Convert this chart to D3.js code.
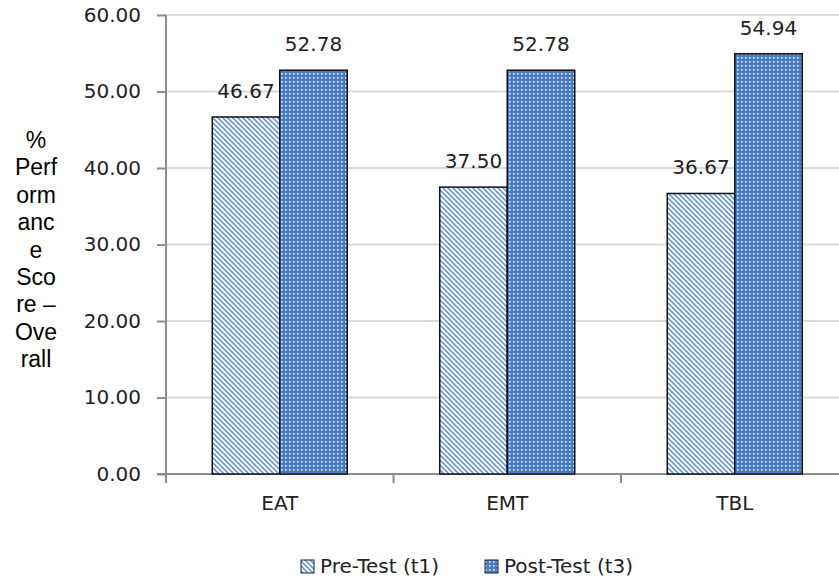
<!DOCTYPE html>
<html>
<head>
<meta charset="utf-8">
<script src="https://cdn.jsdelivr.net/npm/d3@7"></script>
<style>
  html, body { margin: 0; padding: 0; background: #fff; }
  svg { display: block; }
</style>
</head>
<body>
<svg id="chart" width="839" height="579"></svg>
<script>
// Performance scores by teaching method
const categories = ["EAT", "EMT", "TBL"];
const seriesNames = ["Pre-Test (t1)", "Post-Test (t3)"];
const preTest = [46.67, 37.50, 36.67];
const postTest = [52.78, 52.78, 54.94];
const yTicks = [0, 10, 20, 30, 40, 50, 60];
const yTitleLines = ["%", "Perf", "orm", "anc", "e", "Sco", "re –", "Ove", "rall"];

const svg = d3.select("#chart");
const W = 839, H = 579;
const plotLeft = 166, plotTop = 15, plotBottom = 474;
const bandW = 227.5;

const y = d3.scaleLinear().domain([0, 60]).range([plotBottom, plotTop]);
const x = d3.scaleBand().domain(categories).range([plotLeft, plotLeft + bandW * categories.length]);
const barW = 67.5;
const x1 = d3.scaleBand().domain(seriesNames)
  .range([(x.bandwidth() - 2 * barW) / 2, (x.bandwidth() + 2 * barW) / 2]);

const defs = svg.append("defs");
// Downward diagonal hatch for the pre-test bars
const hatch = defs.append("pattern").attr("id", "hatch")
  .attr("patternUnits", "userSpaceOnUse").attr("width", 5).attr("height", 5);
hatch.append("rect").attr("width", 5).attr("height", 5).attr("fill", "#fff");
hatch.append("path").attr("d", "M-1,-1 L6,6 M-1,4 L1,6 M4,-1 L6,1")
  .attr("stroke", "#6b98dc").attr("stroke-width", 1.6);
// White dot grid on blue for the post-test bars
const dots = defs.append("pattern").attr("id", "dots")
  .attr("patternUnits", "userSpaceOnUse").attr("width", 4).attr("height", 4);
dots.append("rect").attr("width", 4).attr("height", 4).attr("fill", "#4a7cc6");
dots.append("rect").attr("x", 1).attr("y", 1).attr("width", 1.6).attr("height", 1.6).attr("fill", "#e6eefa");

const fills = ["url(#hatch)", "url(#dots)"];
const values = [preTest, postTest];

// Gridlines
svg.append("g").selectAll("line").data(yTicks.filter(d => d > 0)).join("line")
  .attr("x1", plotLeft).attr("x2", W)
  .attr("y1", d => y(d)).attr("y2", d => y(d))
  .attr("stroke", "#d9d9d9").attr("stroke-width", 2);

// Y axis
const yAxis = svg.append("g").attr("transform", `translate(${plotLeft},0)`)
  .call(d3.axisLeft(y).tickValues(yTicks).tickFormat(d3.format(".2f")).tickSize(9).tickPadding(16));
yAxis.select(".domain").attr("stroke", "#8c8c8c").attr("stroke-width", 2).attr("d", `M0,${plotTop}V${plotBottom}`);
yAxis.selectAll(".tick line").attr("stroke", "#8c8c8c").attr("stroke-width", 2);
yAxis.selectAll(".tick text").attr("fill", "#222").attr("font-family", "DejaVu Sans").attr("font-size", 20);

// X axis
const xAxis = svg.append("g").attr("transform", `translate(0,${plotBottom})`)
  .call(d3.axisBottom(x).tickSize(0).tickPadding(22));
xAxis.select(".domain").remove();
svg.append("line").attr("x1", plotLeft - 9).attr("x2", W).attr("y1", plotBottom).attr("y2", plotBottom)
  .attr("stroke", "#8c8c8c").attr("stroke-width", 2);
svg.append("g").selectAll("line").data(d3.range(categories.length + 1)).join("line")
  .attr("x1", i => plotLeft + i * bandW).attr("x2", i => plotLeft + i * bandW)
  .attr("y1", plotBottom).attr("y2", plotBottom + 9)
  .attr("stroke", "#8c8c8c").attr("stroke-width", 2);
xAxis.selectAll(".tick text").attr("fill", "#222").attr("font-family", "DejaVu Sans").attr("font-size", 20)
  .attr("dy", "0.71em");

// Bars and value labels
seriesNames.forEach((s, si) => {
  const g = svg.append("g");
  g.selectAll("rect").data(categories).join("rect")
    .attr("x", (c) => x(c) + x1(s))
    .attr("y", (c, i) => y(values[si][i]))
    .attr("width", barW)
    .attr("height", (c, i) => plotBottom - y(values[si][i]))
    .attr("fill", fills[si])
    .attr("stroke", "#111").attr("stroke-width", 1.5);
  g.selectAll("text").data(categories).join("text")
    .attr("x", (c) => x(c) + x1(s) + barW / 2)
    .attr("y", (c, i) => y(values[si][i]) - 19)
    .attr("text-anchor", "middle")
    .attr("font-family", "DejaVu Sans").attr("font-size", 20).attr("fill", "#222")
    .text((c, i) => values[si][i].toFixed(2));
});

// Y axis title, wrapped into short lines
svg.append("text").attr("font-family", "Liberation Sans, Arial").attr("font-size", 23)
  .attr("fill", "#000").attr("text-anchor", "middle")
  .selectAll("tspan").data(yTitleLines).join("tspan")
  .attr("x", 36).attr("y", (d, i) => 148 + i * 27.4).text(d => d);

// Legend
const legend = svg.append("g");
const legX = [301, 485];
seriesNames.forEach((s, si) => {
  legend.append("rect").attr("x", legX[si]).attr("y", 560).attr("width", 13).attr("height", 13)
    .attr("fill", fills[si]).attr("stroke", "#222").attr("stroke-width", 1);
  legend.append("text").attr("x", legX[si] + 19).attr("y", 573)
    .attr("font-family", "DejaVu Sans").attr("font-size", 20).attr("fill", "#222").text(s);
});
</script>
</body>
</html>
